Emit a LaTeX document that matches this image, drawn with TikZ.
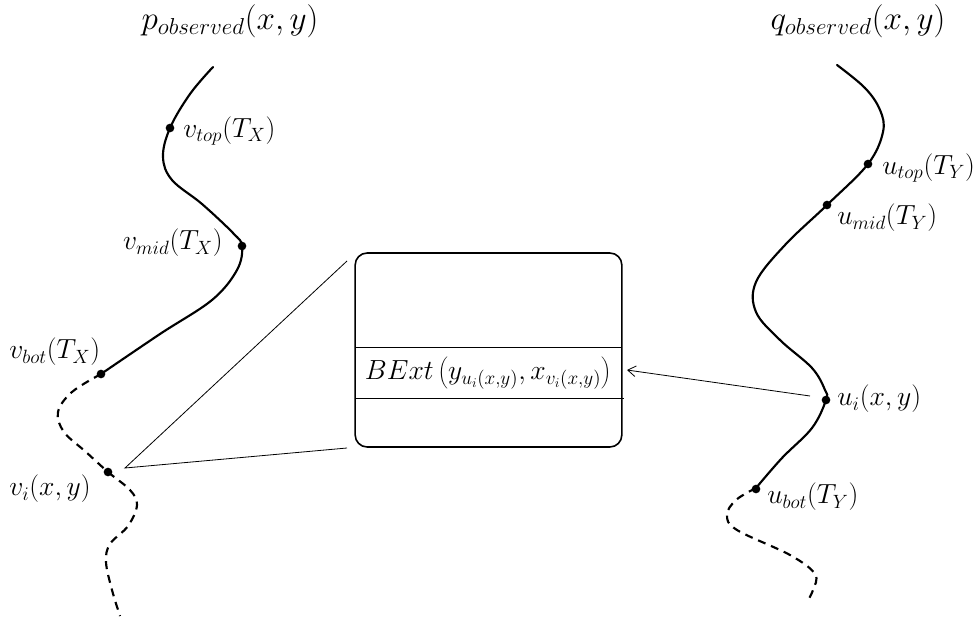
\documentclass[tikz,border=0pt]{standalone}
\usetikzlibrary{arrows.meta}
\begin{document}
\begin{tikzpicture}[x=0.75pt,y=-0.75pt,
  curve/.style={line width=1.6pt,line cap=round},
  dcurve/.style={line width=1.6pt,dash pattern=on 6pt off 4.5pt},
  thin/.style={line width=0.6pt},
  dot/.style={circle,fill=black,inner sep=0pt,minimum size=6.5pt},
  lab/.style={inner sep=0pt,font=\fontsize{21}{25}\selectfont},
  ttl/.style={inner sep=0pt,font=\fontsize{23}{27}\selectfont},
  boxstyle/.style={draw,line width=1.2pt,rounded corners=9pt,minimum width=200pt,minimum height=145.5pt,inner sep=0pt}
]
\useasboundingbox (0,0) rectangle (975,621);
% titles
\node[ttl] (ptitle) at (230,21) {$p_{observed}(x,y)$};
\node[ttl] (qtitle) at (858,21) {$q_{observed}(x,y)$};
% left curve
\draw[curve] plot[smooth,tension=0.6] coordinates {(213,67) (190,94) (170,128) (163,157) (172,180) (202,204) (233,233) (242,246) (237,270) (212,300) (160,334) (101,374)};
\draw[dcurve] plot[smooth,tension=0.6] coordinates {(101,374) (72,392) (58,412) (64,432) (86,452) (108,472) (130,490) (137,505) (128,526) (110,544) (106,562) (112,590) (120,616)};
\node[dot] (vtop) at (170,128) {};
\node[dot] (vmid) at (242,246) {};
\node[dot] (vbot) at (101,374) {};
\node[dot] (vi) at (108,472) {};
\node[lab,anchor=west] (ltop) at (183,131) {$v_{top}(T_X)$};
\node[lab,anchor=east] (lmid) at (223,243) {$v_{mid}(T_X)$};
\node[lab,anchor=west] (lbot) at (9,352) {$v_{bot}(T_X)$};
\node[lab,anchor=west] (lvi) at (9,489) {$v_i(x,y)$};
% right curve
\draw[curve] plot[smooth,tension=0.6] coordinates {(837,65) (865,88) (880,110) (883,132) (868,164) (827,205) (785,245) (756,282) (756,312) (780,340) (812,368) (825,390) (826,400) (812,428) (782,458) (756,488)};
\draw[dcurve] plot[smooth,tension=0.6] coordinates {(756,488) (736,500) (727,515) (737,530) (790,555) (815,574) (813,590) (807,602)};
\node[dot] (utop) at (868,164) {};
\node[dot] (umid) at (827,205) {};
\node[dot] (ui) at (826,400) {};
\node[dot] (ubot) at (756,489) {};
\node[lab,anchor=west] (rtop) at (882,168) {$u_{top}(T_Y)$};
\node[lab,anchor=west] (rmid) at (837,218) {$u_{mid}(T_Y)$};
\node[lab,anchor=west] (rui) at (837,399) {$u_i(x,y)$};
\node[lab,anchor=west] (rbot) at (767,497) {$u_{bot}(T_Y)$};
% box
\node[boxstyle] (box) at (488.5,350) {};
\coordinate (l1a) at (355,347); \coordinate (l1b) at (622,347);
\coordinate (l2a) at (355,398); \coordinate (l2b) at (624,398);
\draw[thin] (l1a) -- (l1b);
\draw[thin] (l2a) -- (l2b);
\node[inner sep=0pt,font=\fontsize{20}{24}\selectfont] (bext) at (488,373) {$BExt\left(y_{u_i(x,y)},x_{v_i(x,y)}\right)$};
% connectors
\coordinate (apex) at (125,468);
\coordinate (cA) at (347,261);
\coordinate (cB) at (347,448);
\draw[thin] (cA) -- (apex) -- (cB);
\coordinate (ustart) at (810,396);
\coordinate (uend) at (627,370);
\draw[thin,-{Straight Barb[length=6pt,width=8pt]}] (ustart) -- (uend);
\end{tikzpicture}
\end{document}
